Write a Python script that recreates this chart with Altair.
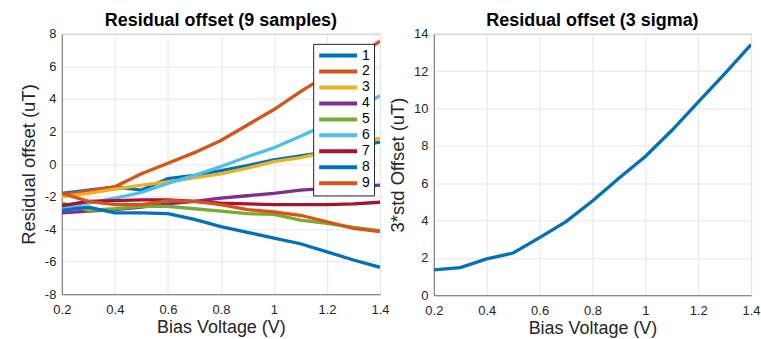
import altair as alt
import pandas as pd

volts = [0.2, 0.3, 0.4, 0.5, 0.6, 0.7, 0.8, 0.9, 1.0, 1.1, 1.2, 1.3, 1.4]

s1 = [-1.8, -1.6, -1.4, -1.6, -0.9, -0.7, -0.4, -0.1, 0.25, 0.5, 0.75, 1.05, 1.35]
s2 = [-1.9, -1.65, -1.4, -0.6, 0.05, 0.7, 1.45, 2.4, 3.35, 4.45, 5.45, 6.45, 7.55]
s3 = [-2.0, -1.8, -1.55, -1.3, -1.1, -0.85, -0.6, -0.25, 0.15, 0.4, 0.75, 1.15, 1.6]
s4 = [-3.0, -2.9, -2.8, -2.65, -2.45, -2.3, -2.1, -1.95, -1.8, -1.6, -1.5, -1.4, -1.3]
s5 = [-2.4, -2.85, -2.75, -2.6, -2.6, -2.75, -2.9, -3.05, -3.1, -3.45, -3.65, -3.9, -4.1]
s6 = [-2.7, -2.4, -2.1, -1.75, -1.2, -0.7, -0.15, 0.45, 1.0, 1.7, 2.45, 3.25, 4.2]
s7 = [-2.55, -2.3, -2.25, -2.2, -2.2, -2.3, -2.4, -2.45, -2.5, -2.5, -2.5, -2.45, -2.35]
s8 = [-2.85, -2.65, -3.0, -3.0, -3.05, -3.4, -3.85, -4.2, -4.55, -4.9, -5.4, -5.9, -6.35]
s9 = [-1.8, -2.3, -2.5, -2.5, -2.25, -2.3, -2.5, -2.8, -2.95, -3.15, -3.55, -3.95, -4.15]

sigma3 = [1.35, 1.48, 1.94, 2.26, 3.08, 3.94, 5.04, 6.27, 7.43, 8.82, 10.34, 11.85, 13.42]

names = ["1", "2", "3", "4", "5", "6", "7", "8", "9"]
colors = ["#0072BD", "#D95319", "#EDB120", "#7E2F8E", "#77AC30",
          "#4DBEEE", "#A2142F", "#0072BD", "#D95319"]
series = [s1, s2, s3, s4, s5, s6, s7, s8, s9]

x_ticks = [0.2, 0.4, 0.6, 0.8, 1.0, 1.2, 1.4]
y_ticks_left = [-8, -6, -4, -2, 0, 2, 4, 6, 8]
y_ticks_right = [0, 2, 4, 6, 8, 10, 12, 14]

rows = []
for name, vals in zip(names, series):
    for v, o in zip(volts, vals):
        rows.append({"sample": name, "V": v, "offset": o})
df = pd.DataFrame(rows)
df_sig = pd.DataFrame({"V": volts, "sigma": sigma3})

label_expr = "'' + datum.value"

x_enc = alt.X("V:Q",
              scale=alt.Scale(domain=[0.2, 1.4], nice=False, zero=False),
              axis=alt.Axis(values=x_ticks, labelExpr=label_expr,
                            labelFlush=False, title="Bias Voltage (V)"))

title_params = dict(fontSize=18, fontWeight="bold", color="#000000",
                    font="Liberation Sans", offset=-2)

left = alt.Chart(df).mark_line(strokeWidth=3.3, clip=True).encode(
    x=x_enc,
    y=alt.Y("offset:Q",
            scale=alt.Scale(domain=[-8, 8], nice=False),
            axis=alt.Axis(values=y_ticks_left, labelExpr=label_expr,
                          title="Residual offset (uT)")),
    color=alt.Color("sample:N",
                    scale=alt.Scale(domain=names, range=colors),
                    legend=alt.Legend(
                        title=None, orient="none", legendX=252, legendY=10,
                        symbolType="stroke", symbolSize=1444,
                        symbolStrokeWidth=4, clipHeight=15.5, rowPadding=0,
                        padding=4, labelOffset=3, labelFontSize=14,
                        labelColor="#000000", labelFont="Liberation Sans",
                        fillColor="#ffffff", strokeColor="#262626",
                        cornerRadius=0)),
).properties(width=319, height=261,
             title=alt.TitleParams("Residual offset (9 samples)", **title_params))

right = alt.Chart(df_sig).mark_line(strokeWidth=3.3, clip=True, color="#0072BD").encode(
    x=x_enc,
    y=alt.Y("sigma:Q",
            scale=alt.Scale(domain=[0, 14], nice=False),
            axis=alt.Axis(values=y_ticks_right, labelExpr=label_expr,
                          title="3*std Offset (uT)")),
).properties(width=318, height=262,
             title=alt.TitleParams("Residual offset (3 sigma)", **title_params))

chart = alt.hconcat(left, right, spacing=54, bounds="flush").properties(
    padding={"left": 19, "top": 10.5, "right": 0, "bottom": 0}
).configure(
    font="Liberation Sans",
    background="#ffffff",
).configure_view(
    stroke="#7a7a7a", strokeWidth=1
).configure_axis(
    labelFont="Liberation Sans", titleFont="Liberation Sans",
    labelFontSize=13, titleFontSize=18.5, titleFontWeight="normal",
    labelColor="#262626", titleColor="#262626",
    gridColor="#e6e6e6", gridWidth=1,
    domainColor="#7a7a7a", ticks=False, labelPadding=6, titlePadding=5.5,
).configure_axisX(labelPadding=9, titlePadding=2, titleFontSize=18)

chart.save("out.html", embed_options={"renderer": "svg", "actions": False})
